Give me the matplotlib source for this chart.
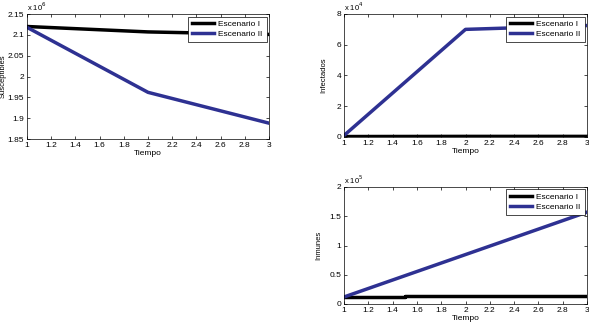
import numpy as np
import matplotlib.pyplot as plt
from matplotlib.ticker import FuncFormatter

tiempo = [1, 2, 3]
susc_esc1 = [2.120e6, 2.107e6, 2.101e6]
susc_esc2 = [2.118e6, 1.962e6, 1.888e6]
inf_esc1 = [300, 400, 400]
inf_esc2 = [1000, 70000, 72500]
tiempo_inm = [1, 1.5, 1.5, 2.5, 2.5, 3]
inm_esc1 = [12000, 12000, 13000, 13000, 14000, 14000]
tiempo_inm2 = [1, 3]
inm_esc2 = [12000, 157000]

labels = ["Escenario I", "Escenario II"]
colors = ["#000000", "#2e3192"]

plt.rcParams.update({"font.size": 6, "font.family": ["Liberation Sans", "DejaVu Sans"]})
fig = plt.figure(figsize=(5.89, 3.33), dpi=100)


def style(ax, ylabel, ylim, yticks, exp, label_x):
    ax.set_xlim(1, 3)
    ax.set_xticks(np.arange(1, 3.01, 0.2))
    ax.xaxis.set_major_formatter(FuncFormatter(lambda v, p: f"{v:g}"))
    ax.set_ylim(*ylim)
    ax.set_yticks(yticks)
    ax.yaxis.set_major_formatter(FuncFormatter(lambda v, p: f"{round(v / 10 ** exp, 4):g}"))
    ax.tick_params(direction="in", length=2, width=0.5, top=True, right=True, pad=2, labelsize=6)
    for s in ax.spines.values():
        s.set_linewidth(0.5)
    ax.set_xlabel("Tiempo", fontsize=6, labelpad=1)
    ax.set_ylabel(ylabel, fontsize=5.5)
    ax.yaxis.set_label_coords(label_x, 0.5)
    ax.text(0.0, 1.01, r"x 10$^{%d}$" % exp, transform=ax.transAxes, fontsize=5.5,
            ha="left", va="bottom")
    leg = ax.legend(loc="upper right", fontsize=6, fancybox=False, framealpha=1,
                    edgecolor="black", handlelength=2.7, handletextpad=0.5,
                    borderpad=0.45, labelspacing=0.3, borderaxespad=0.3)
    leg.get_frame().set_linewidth(0.5)


ax1 = fig.add_axes([27 / 589, 1 - 139 / 333, 242 / 589, 125 / 333])
ax1.plot(tiempo, susc_esc1, color=colors[0], lw=2.5, label=labels[0])
ax1.plot(tiempo, susc_esc2, color=colors[1], lw=2.5, label=labels[1])
style(ax1, "Susceptibles", (1.85e6, 2.15e6), np.arange(1.85e6, 2.151e6, 0.05e6), 6, -0.085)

ax2 = fig.add_axes([344 / 589, 1 - 137 / 333, 243 / 589, 123 / 333])
ax2.plot(tiempo, inf_esc1, color=colors[0], lw=2.5, label=labels[0])
ax2.plot(tiempo, inf_esc2, color=colors[1], lw=2.5, label=labels[1])
style(ax2, "Infectados", (0, 8e4), np.arange(0, 8.01e4, 2e4), 4, -0.07)

ax3 = fig.add_axes([344 / 589, 1 - 304 / 333, 243 / 589, 117 / 333])
ax3.plot(tiempo_inm, inm_esc1, color=colors[0], lw=2.5, label=labels[0],
         solid_joinstyle="round")
ax3.plot(tiempo_inm2, inm_esc2, color=colors[1], lw=2.5, label=labels[1])
style(ax3, "Inmunes", (0, 2e5), np.arange(0, 2.01e5, 0.5e5), 5, -0.09)

fig.savefig("out.png", dpi=100)
